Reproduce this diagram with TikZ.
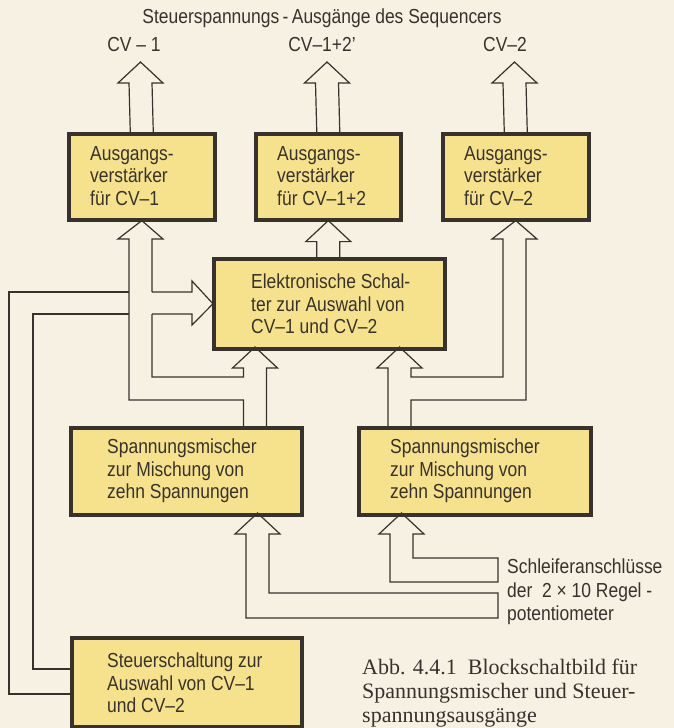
\documentclass[tikz,border=0pt]{standalone}
\usepackage{fontspec}
\setmainfont{Liberation Serif}
\newfontfamily\din[FakeStretch=0.86]{Liberation Sans}
\usetikzlibrary{calc}
\definecolor{paper}{RGB}{246,241,226}
\definecolor{boxfill}{RGB}{246,226,140}
\definecolor{ink}{RGB}{55,50,45}
\newcommand\dtxt{\din\fontsize{20.3}{22.5}\selectfont}
\newcommand\pipeup[2]{%
  \draw[pipe] ($(#2)+(-11.5,0)$) -- ($(#1)+(-11.5,21)$) -- ($(#1)+(-22.5,21)$) -- (#1)
    -- ($(#1)+(22.5,21)$) -- ($(#1)+(11.5,21)$) -- ($(#2)+(11.5,0)$);}
\begin{document}
\begin{tikzpicture}[x=1pt,y=-1pt,
  pipe/.style={draw=ink, line width=1.2pt, line join=miter},
  box/.style={draw=ink, line width=2.6pt, fill=boxfill, inner sep=0, anchor=north west},
  lbl/.style={font=\dtxt, text=ink, inner sep=0, align=left, anchor=west},
  toplbl/.style={font=\dtxt, text=ink, inner sep=0}]
\fill[paper] (0,0) rectangle (674,728);
\useasboundingbox (0,0) rectangle (674,728);

% boxes (drawn as named nodes)
\node[box, minimum width=145pt, minimum height=85pt] (oA) at (68,133) {};
\node[box, minimum width=144pt, minimum height=85pt] (oB) at (255,133) {};
\node[box, minimum width=145pt, minimum height=85pt] (oC) at (442,133) {};
\node[box, minimum width=230pt, minimum height=89pt] (sw) at (213,258) {};
\node[box, minimum width=230pt, minimum height=86pt] (mA) at (70,427) {};
\node[box, minimum width=231pt, minimum height=86pt] (mB) at (358,427) {};
\node[box, minimum width=229pt, minimum height=88pt] (ctl) at (71,637) {};

% output arrows
\coordinate (cvA) at (140.5,62);
\coordinate (cvB) at (327,62);
\coordinate (cvC) at (514.5,62);
\pipeup{cvA}{oA.north}
\pipeup{cvB}{oB.north}
\pipeup{cvC}{oC.north}
\coordinate (swB) at (sw.north -| oB.south);
\pipeup{oB.south}{swB}

% mixer A -> switch and output A
\coordinate (swInA) at (255,347);
\draw[pipe] (266.5,427) -- (266.5,368) -- (277.5,368) -- (swInA) -- (232.5,368) -- (243.5,368)
  -- (243.5,377) -- (152,377) -- (152,314);
\draw[pipe] (152,292) -- (152,239) -- (163,239) -- (oA.south) -- (118,239) -- (129,239)
  -- (129,400) -- (243.5,400) -- (243.5,427);

% mixer B -> switch and output C
\coordinate (swInB) at (399.5,347);
\draw[pipe] (388,427) -- (388,368) -- (377,368) -- (swInB) -- (422,368) -- (411,368)
  -- (411,377) -- (503,377) -- (503,239) -- (492,239) -- (oC.south) -- (537,239) -- (526,239)
  -- (526,400) -- (411,400) -- (411,427);

% control pipe
\draw[pipe] (71,694) -- (9,694) -- (9,292) -- (129,292);
\draw[pipe] (71,669) -- (33,669) -- (33,314) -- (129,314);
\draw[pipe] (152,292) -- (192,292) -- (192,281) -- (sw.west) -- (192,325) -- (192,314) -- (152,314);

% potentiometer inputs
\coordinate (mInA) at (257.5,513);
\coordinate (mInB) at (401.5,513);
\draw[pipe] (269,534) -- (269,593) -- (498,593) -- (498,618) -- (246,618) -- (246,534)
  -- (235,534) -- (mInA) -- (280,534) -- cycle;
\draw[pipe] (413,534) -- (413,558) -- (498,558) -- (498,582) -- (390,582) -- (390,534)
  -- (379,534) -- (mInB) -- (424,534) -- cycle;

% redraw box borders on top
\foreach \b in {oA,oB,oC,sw,mA,mB,ctl}{\draw[ink, line width=2.6pt] (\b.north west) rectangle (\b.south east);}

% texts
\node[toplbl] (title) at (322,18) {Steuerspannungs\,-\,Ausgänge des Sequencers};
\node[toplbl] (lA) at (134,45) {CV – 1};
\node[toplbl] (lB) at (322,45) {CV–1+2’};
\node[toplbl] (lC) at (505,45) {CV–2};
\node[lbl] (tA) at (90,176) {Ausgangs-\\verstärker\\für CV–1};
\node[lbl] (tB) at (277,176) {Ausgangs-\\verstärker\\für CV–1+2};
\node[lbl] (tC) at (464,176) {Ausgangs-\\verstärker\\für CV–2};
\node[lbl] (tS) at (251,304) {Elektronische Schal-\\ter zur Auswahl von\\CV–1 und CV–2};
\node[lbl] (tMA) at (107,471) {Spannungsmischer\\zur Mischung von\\zehn Spannungen};
\node[lbl] (tMB) at (390,471) {Spannungsmischer\\zur Mischung von\\zehn Spannungen};
\node[lbl] (tCtl) at (107,683) {Steuerschaltung zur\\Auswahl von CV–1\\und CV–2};
\node[lbl, font=\din\fontsize{20.3}{23.5}\selectfont] (tPot) at (507,592) {Schleiferanschlüsse\\der \ 2 × 10 Regel -\\potentiometer};
\node[anchor=north west, inner sep=0, align=left, text=ink, font=\fontsize{22}{24}\selectfont] (cap) at (362,659)
  {Abb. 4.4.1\enspace Blockschaltbild für\\Spannungsmischer und Steuer-\\spannungsausgänge};
\end{tikzpicture}
\end{document}
